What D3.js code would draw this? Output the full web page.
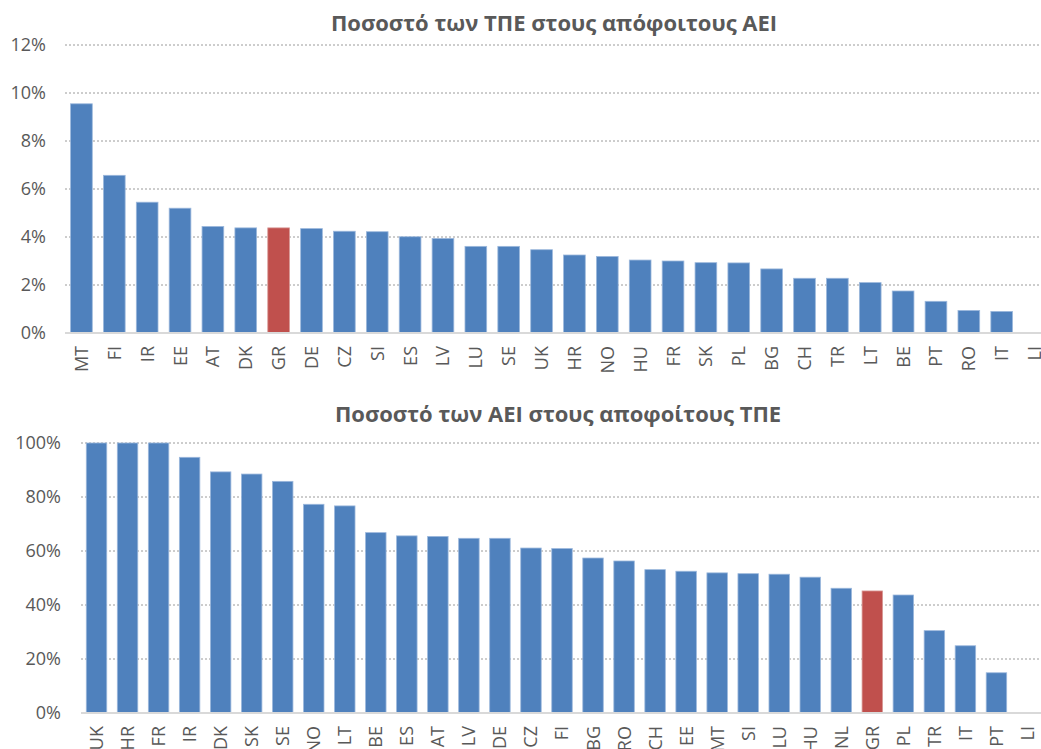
<!DOCTYPE html>
<html>
<head>
<meta charset="utf-8">
<script src="https://cdn.jsdelivr.net/npm/d3@7"></script>
<style>
  html, body { margin: 0; padding: 0; background: #fff; }
  svg { display: block; font-family: "Open Sans", "Noto Sans", sans-serif; }
</style>
</head>
<body>
<svg id="chart" width="1041" height="749"></svg>
<script>
// Share of ICT graduates among tertiary graduates, by country
const topTitle = "Ποσοστό των ΤΠΕ στους απόφοιτους ΑΕΙ";
const topCountries = ["MT","FI","IR","EE","AT","DK","GR","DE","CZ","SI","ES","LV","LU","SE","UK",
                      "HR","NO","HU","FR","SK","PL","BG","CH","TR","LT","BE","PT","RO","IT","LI"];
const topValues = [9.55, 6.57, 5.45, 5.2, 4.44, 4.38, 4.38, 4.35, 4.24, 4.22, 4.01, 3.94, 3.61, 3.61, 3.47,
                   3.25, 3.19, 3.04, 3.0, 2.93, 2.92, 2.67, 2.28, 2.28, 2.1, 1.75, 1.32, 0.94, 0.9, 0];
const topTicks = [0, 2, 4, 6, 8, 10, 12];

// Share of tertiary education among ICT graduates, by country
const bottomTitle = "Ποσοστό των ΑΕΙ στους αποφοίτους ΤΠΕ";
const bottomCountries = ["UK","HR","FR","IR","DK","SK","SE","NO","LT","BE","ES","AT","LV","DE","CZ","FI",
                         "BG","RO","CH","EE","MT","SI","LU","HU","NL","GR","PL","TR","IT","PT","LI"];
const bottomValues = [100, 100, 100, 94.7, 89.3, 88.5, 85.8, 77.3, 76.7, 66.8, 65.6, 65.4, 64.7, 64.7, 61.1, 60.9,
                      57.4, 56.3, 53.1, 52.5, 51.9, 51.6, 51.4, 50.3, 46.2, 45.2, 43.7, 30.5, 24.9, 14.9, 0];
const bottomTicks = [0, 20, 40, 60, 80, 100];

const highlight = "GR";

const svg = d3.select("#chart");

function drawPanel(cfg) {
  const g = svg.append("g");
  const x = d3.scaleBand()
    .domain(cfg.categories)
    .range([cfg.left, cfg.right])
    .paddingInner(0.34)
    .paddingOuter(0.17);
  const y = d3.scaleLinear()
    .domain([0, cfg.max])
    .range([cfg.bottom, cfg.top]);

  // title
  g.append("text")
    .attr("x", cfg.titleX)
    .attr("y", cfg.titleY)
    .attr("text-anchor", "middle")
    .attr("font-size", 22)
    .attr("font-weight", 700)
    .attr("fill", "#595959")
    .text(cfg.title);

  // dotted gridlines (all except baseline)
  g.selectAll("line.grid")
    .data(cfg.ticks.filter(t => t > 0))
    .join("line")
    .attr("class", "grid")
    .attr("x1", cfg.left).attr("x2", 1041)
    .attr("y1", d => y(d)).attr("y2", d => y(d))
    .attr("stroke", "#9a9a9a")
    .attr("stroke-width", 1)
    .attr("stroke-dasharray", "2,2");

  // y axis labels
  const yAxis = d3.axisLeft(y)
    .tickValues(cfg.ticks)
    .tickFormat(d => d + "%")
    .tickSize(0)
    .tickPadding(cfg.labelGap);
  const ya = g.append("g")
    .attr("transform", `translate(${cfg.left},0)`)
    .call(yAxis);
  ya.select(".domain").remove();
  ya.selectAll("text")
    .attr("font-family", "'Open Sans', sans-serif")
    .attr("font-size", 18)
    .attr("fill", "#595959");

  // bars
  g.selectAll("rect.bar")
    .data(cfg.categories.map((c, i) => ({ c, v: cfg.values[i] })))
    .join("rect")
    .attr("class", "bar")
    .attr("x", d => x(d.c))
    .attr("width", x.bandwidth())
    .attr("y", d => y(d.v))
    .attr("height", d => y(0) - y(d.v))
    .attr("fill", d => d.c === highlight ? "#C0504D" : "#4F81BD")
    .attr("stroke", d => d.v > 0 ? (d.c === highlight ? "#D89896" : "#9CB8DC") : "none")
    .attr("stroke-width", 0.8);

  // x axis baseline
  g.append("line")
    .attr("x1", cfg.left).attr("x2", 1041)
    .attr("y1", y(0)).attr("y2", y(0))
    .attr("stroke", "#d9d9d9")
    .attr("stroke-width", 2);

  // x axis labels, rotated
  const xAxis = d3.axisBottom(x).tickSize(0);
  const xa = g.append("g")
    .attr("transform", `translate(0,${y(0)})`)
    .call(xAxis);
  xa.select(".domain").remove();
  xa.selectAll("text")
    .attr("font-family", "'Open Sans', sans-serif")
    .attr("font-size", 18)
    .attr("fill", "#595959")
    .attr("text-anchor", "end")
    .attr("transform", "rotate(-90)")
    .attr("x", -13)
    .attr("y", 0)
    .attr("dy", "0.36em");
}

drawPanel({
  title: topTitle, titleX: 554, titleY: 31,
  categories: topCountries, values: topValues, ticks: topTicks, max: 12,
  left: 65, right: 1051, top: 45, bottom: 333, labelGap: 19
});

drawPanel({
  title: bottomTitle, titleX: 558, titleY: 422,
  categories: bottomCountries, values: bottomValues, ticks: bottomTicks, max: 100,
  left: 81, right: 1043, top: 443, bottom: 713, labelGap: 20
});
</script>
</body>
</html>
